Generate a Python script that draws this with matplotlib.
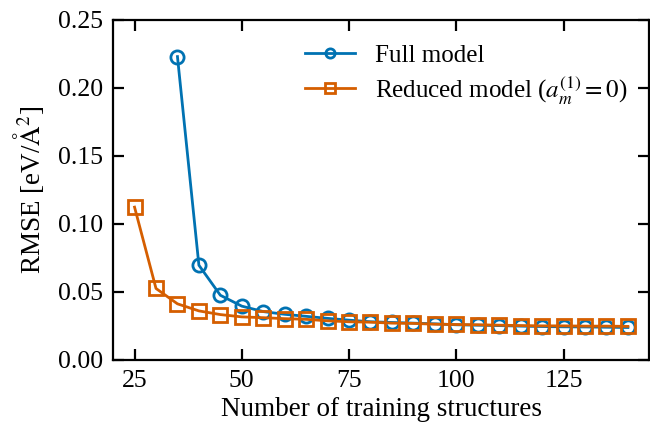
import matplotlib
matplotlib.use("Agg")
import matplotlib.pyplot as plt

# training set sizes
n_full = [35, 40, 45, 50, 55, 60, 65, 70, 75, 80, 85, 90, 95, 100,
          105, 110, 115, 120, 125, 130, 135, 140]
rmse_full = [0.223, 0.0696, 0.0475, 0.0395, 0.0355, 0.0335, 0.032, 0.0305,
             0.0292, 0.028, 0.0275, 0.027, 0.0265, 0.0258, 0.0255, 0.0252,
             0.0248, 0.0245, 0.0243, 0.0242, 0.024, 0.0238]

n_red = [25, 30, 35, 40, 45, 50, 55, 60, 65, 70, 75, 80, 85, 90, 95, 100,
         105, 110, 115, 120, 125, 130, 135, 140]
rmse_red = [0.1123, 0.0525, 0.0412, 0.036, 0.0333, 0.0316, 0.031, 0.0303,
            0.0298, 0.0287, 0.028, 0.0277, 0.027, 0.0268, 0.0262, 0.026,
            0.0258, 0.0255, 0.0252, 0.025, 0.025, 0.0248, 0.0248, 0.0246]

plt.rcParams['font.family'] = ['Liberation Serif', 'DejaVu Serif']
plt.rcParams['mathtext.fontset'] = 'stix'

fig, ax = plt.subplots(figsize=(6.5, 4.32), dpi=100)

ax.plot(n_full, rmse_full, color='#0072b2', marker='o', fillstyle='none',
        markersize=9.5, markeredgewidth=2.0, linewidth=2.0, label='Full model')
ax.plot(n_red, rmse_red, color='#d55e00', marker='s', fillstyle='none',
        markersize=9.5, markeredgewidth=2.0, linewidth=2.0,
        label=r'Reduced model ($a_m^{(1)}=0$)')

ax.set_xlim(20, 145)
ax.set_ylim(0, 0.25)
ax.set_xticks([25, 50, 75, 100, 125])
ax.set_yticks([0, 0.05, 0.10, 0.15, 0.20, 0.25])
ax.set_yticklabels(['0.00', '0.05', '0.10', '0.15', '0.20', '0.25'])

ax.tick_params(direction='in', top=True, right=True, length=8, width=1.6,
               labelsize=18.5, pad=7)
for sp in ax.spines.values():
    sp.set_linewidth(1.6)

ax.set_xlabel('Number of training structures', fontsize=19.5)
ax.set_ylabel(r'RMSE [eV/$\mathrm{\AA}^2$]', fontsize=19.5, labelpad=9)

ax.legend(frameon=False, fontsize=18, markerscale=0.7, handlelength=2.0,
          labelspacing=0.28, loc='upper left', bbox_to_anchor=(0.315, 0.995))

fig.subplots_adjust(left=0.174, right=0.999, top=0.954, bottom=0.167)
fig.savefig('out.png', dpi=100)
